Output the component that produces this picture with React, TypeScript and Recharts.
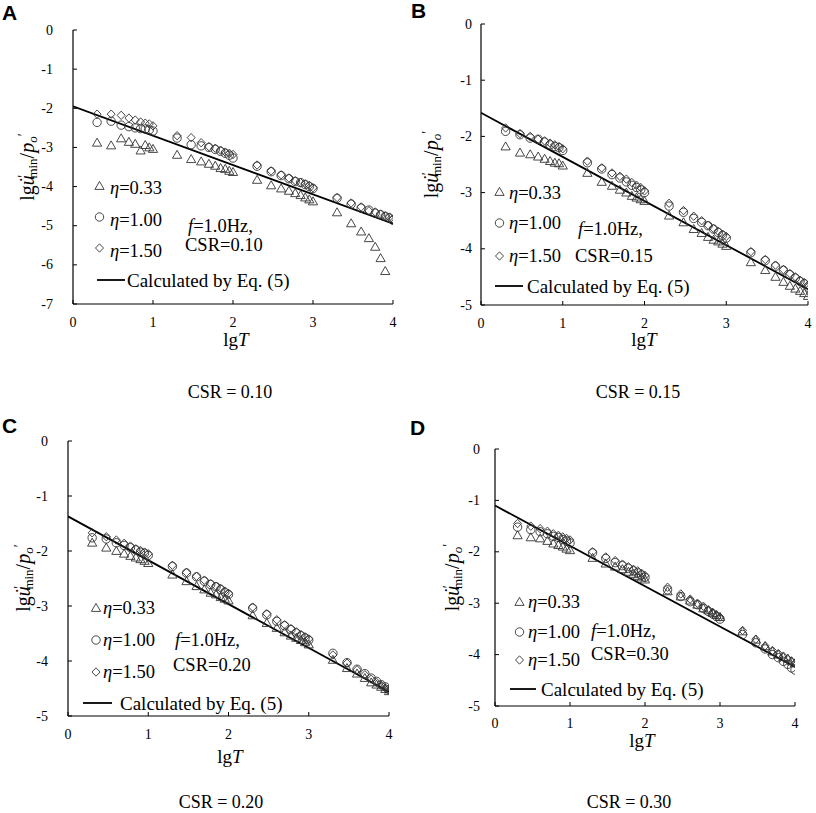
import React from 'react';
import { ScatterChart, Scatter, XAxis, YAxis } from 'recharts';

// lgT values (T = 2..10, 20..100, 200..1000, 2000..10000)
const lgT = [
  0.301, 0.477, 0.602, 0.699, 0.778, 0.845, 0.903, 0.954, 1.0,
  1.301, 1.477, 1.602, 1.699, 1.778, 1.845, 1.903, 1.954, 2.0,
  2.301, 2.477, 2.602, 2.699, 2.778, 2.845, 2.903, 2.954, 3.0,
  3.301, 3.477, 3.602, 3.699, 3.778, 3.845, 3.903, 3.954, 4.0,
];
const lineX = [0, 4];
const xTicks = [0, 1, 2, 3, 4];
const yTicks7 = [-7, -6, -5, -4, -3, -2, -1, 0];
const yTicks5 = [-5, -4, -3, -2, -1, 0];

// Panel A, CSR = 0.10
const triA = [-2.88, -2.95, -2.77, -2.86, -2.91, -3.08, -2.94, -3.0, -3.04,
  -3.19, -3.3, -3.36, -3.42, -3.47, -3.53, -3.55, -3.6, -3.63,
  -3.83, -3.97, -4.05, -4.11, -4.17, -4.22, -4.28, -4.33, -4.38,
  -4.66, -4.94, -5.15, -5.32, -5.54, -5.83, -6.16, null, null];
const cirA = [-2.36, -2.33, -2.43, -2.47, -2.5, -2.52, -2.53, -2.55, -2.58,
  -2.76, -2.93, -2.96, -3.0, -3.05, -3.1, -3.15, -3.2, -3.27,
  -3.48, -3.62, -3.72, -3.8, -3.87, -3.9, -3.95, -4.0, -4.05,
  -4.3, -4.45, -4.55, -4.6, -4.68, -4.72, -4.76, -4.8, -4.86];
const diaA = [-2.15, -2.15, -2.18, -2.25, -2.3, -2.35, -2.38, -2.4, -2.45,
  -2.7, -2.75, -2.88, -2.98, -3.02, -3.07, -3.12, -3.15, -3.18,
  -3.45, -3.6, -3.7, -3.78, -3.85, -3.9, -3.93, -3.97, -4.03,
  -4.28, -4.42, -4.52, -4.62, -4.65, -4.7, -4.75, -4.78, -4.83];
const lineA = [-1.95, -4.95];

// Panel B, CSR = 0.15
const triB = [-2.18, -2.29, -2.32, -2.36, -2.4, -2.44, -2.47, -2.48, -2.52,
  -2.65, -2.81, -2.88, -2.95, -3.0, -3.06, -3.09, -3.12, -3.15,
  -3.41, -3.53, -3.65, -3.72, -3.79, -3.84, -3.87, -3.91, -3.95,
  -4.24, -4.38, -4.5, -4.59, -4.66, -4.71, -4.75, -4.79, -4.84];
const cirB = [-1.91, -1.97, -2.03, -2.05, -2.1, -2.15, -2.18, -2.2, -2.25,
  -2.47, -2.58, -2.68, -2.74, -2.81, -2.87, -2.91, -2.95, -3.0,
  -3.24, -3.35, -3.46, -3.53, -3.59, -3.65, -3.71, -3.76, -3.81,
  -4.07, -4.21, -4.31, -4.38, -4.46, -4.52, -4.58, -4.62, -4.68];
const diaB = [-1.85, -1.95, -2.0, -2.05, -2.08, -2.12, -2.15, -2.18, -2.22,
  -2.44, -2.56, -2.65, -2.71, -2.76, -2.82, -2.87, -2.91, -2.97,
  -3.19, -3.32, -3.42, -3.5, -3.58, -3.64, -3.69, -3.74, -3.78,
  -4.05, -4.19, -4.29, -4.37, -4.44, -4.5, -4.56, -4.6, -4.65];
const lineB = [-1.58, -4.72];

// Panel C, CSR = 0.20
const triC = [-1.85, -1.94, -2.0, -2.05, -2.09, -2.12, -2.15, -2.18, -2.22,
  -2.43, -2.55, -2.64, -2.7, -2.76, -2.79, -2.84, -2.87, -2.9,
  -3.17, -3.31, -3.4, -3.48, -3.54, -3.58, -3.62, -3.66, -3.7,
  -3.98, -4.13, -4.23, -4.31, -4.39, -4.43, -4.47, -4.51, -4.55];
const cirC = [-1.76, -1.78, -1.85, -1.9, -1.94, -1.98, -2.02, -2.04, -2.08,
  -2.28, -2.4, -2.47, -2.55, -2.61, -2.65, -2.7, -2.75, -2.79,
  -3.04, -3.16, -3.28, -3.36, -3.43, -3.49, -3.54, -3.58, -3.62,
  -3.86, -4.03, -4.15, -4.23, -4.31, -4.37, -4.43, -4.47, -4.52];
const diaC = [-1.67, -1.74, -1.8, -1.86, -1.91, -1.96, -1.99, -2.02, -2.05,
  -2.26, -2.39, -2.46, -2.53, -2.59, -2.64, -2.68, -2.73, -2.77,
  -3.02, -3.14, -3.25, -3.34, -3.41, -3.47, -3.52, -3.56, -3.6,
  -3.89, -4.04, -4.16, -4.25, -4.33, -4.39, -4.44, -4.49, -4.53];
const lineC = [-1.37, -4.56];

// Panel D, CSR = 0.30
const triD = [-1.68, -1.72, -1.74, -1.79, -1.84, -1.87, -1.9, -1.94, -1.97,
  -2.12, -2.23, -2.29, -2.34, -2.39, -2.43, -2.47, -2.5, -2.54,
  -2.77, -2.87, -2.95, -3.03, -3.1, -3.14, -3.19, -3.23, -3.27,
  -3.55, -3.71, -3.84, -3.94, -4.0, -4.05, -4.08, -4.13, -4.17];
const cirD = [-1.52, -1.57, -1.61, -1.65, -1.7, -1.72, -1.76, -1.79, -1.83,
  -2.02, -2.13, -2.21, -2.27, -2.32, -2.37, -2.41, -2.45, -2.5,
  -2.74, -2.87, -2.97, -3.03, -3.1, -3.16, -3.21, -3.26, -3.31,
  -3.61, -3.77, -3.89, -4.0, -4.06, -4.13, -4.19, -4.26, -4.3];
const diaD = [-1.45, -1.5, -1.55, -1.6, -1.65, -1.68, -1.71, -1.74, -1.77,
  -2.0, -2.1, -2.17, -2.24, -2.29, -2.34, -2.37, -2.42, -2.46,
  -2.69, -2.82, -2.92, -3.0, -3.06, -3.13, -3.18, -3.23, -3.27,
  -3.53, -3.7, -3.83, -3.92, -3.98, -4.03, -4.08, -4.13, -4.17];
const lineD = [-1.1, -4.24];

const seriesLabels = ['0.33', '1.00', '1.50'];
const lineLabel = 'Calculated by Eq. (5)';
const panelLetters = ['A', 'B', 'C', 'D'];
const csrValues = ['0.10', '0.15', '0.20', '0.30'];

const zip = (xs: number[], ys: (number | null)[]) =>
  xs.map((x, i) => ({ x, y: ys[i] })).filter((d) => d.y !== null);

const SERIF = '"Liberation Serif", "Times New Roman", serif';
const SERIF_STYLE = { fontFamily: SERIF };
const MARK = '#333';

const triPath = (cx: number, cy: number) =>
  `${cx},${cy - 4.6} ${cx - 4.6},${cy + 3.4} ${cx + 4.6},${cy + 3.4}`;
const diaPath = (cx: number, cy: number) =>
  `${cx},${cy - 4.2} ${cx + 4},${cy} ${cx},${cy + 4.2} ${cx - 4},${cy}`;

const Tri = (p: any) => <polygon points={triPath(p.cx, p.cy)} fill="none" stroke={MARK} strokeWidth={0.9} />;
const Cir = (p: any) => <circle cx={p.cx} cy={p.cy} r={4.2} fill="none" stroke={MARK} strokeWidth={0.9} />;
const Dia = (p: any) => <polygon points={diaPath(p.cx, p.cy)} fill="none" stroke={MARK} strokeWidth={0.9} />;
const NoShape = () => <g />;

const YTick = (p: any) => (
  <g>
    <line x1={p.x} x2={p.x + 4} y1={p.y} y2={p.y} stroke="#000" strokeWidth={1} />
    <text x={p.x - p.gap} y={p.y} textAnchor="end" dominantBaseline="central" fontSize={14}
      style={SERIF_STYLE} fill="#000">
      {p.payload.value}
    </text>
  </g>
);
const XTick = (p: any) => (
  <g>
    <line x1={p.x} x2={p.x} y1={p.y} y2={p.y - 4} stroke="#000" strokeWidth={1} />
    <text x={p.x} y={p.y + p.gap} textAnchor="middle" dominantBaseline="central" fontSize={14}
      style={SERIF_STYLE} fill="#000">
      {p.payload.value}
    </text>
  </g>
);

const panels = [
  { tri: triA, cir: cirA, dia: diaA, line: lineA, yTicks: yTicks7, box: { left: 0, top: 0, width: 408, height: 410 },
    margin: { top: 30, right: 15, bottom: 76, left: 33 }, yGap: 20, xGap: 18 },
  { tri: triB, cir: cirB, dia: diaB, line: lineB, yTicks: yTicks5, box: { left: 408, top: 0, width: 408, height: 410 },
    margin: { top: 24, right: 8, bottom: 75, left: 33 }, yGap: 9, xGap: 18 },
  { tri: triC, cir: cirC, dia: diaC, line: lineC, yTicks: yTicks5, box: { left: 0, top: 410, width: 408, height: 403 },
    margin: { top: 31, right: 19, bottom: 67, left: 28 }, yGap: 20, xGap: 18 },
  { tri: triD, cir: cirD, dia: diaD, line: lineD, yTicks: yTicks5, box: { left: 408, top: 410, width: 408, height: 403 },
    margin: { top: 39, right: 21, bottom: 77, left: 47 }, yGap: 15, xGap: 17 },
];

// overlay layout (page coordinates)
const overlay = [
  { letter: [2, 20], yLab: [27, 167], xLab: [236, 339], cap: [230, 392],
    mk: [99.5, 110, [186, 217, 248], [188, 220, 251]], ln: [97, 125, 280, 127], f: [188, 226], c: [185, 245] },
  { letter: [411, 18], yLab: [431, 164.5], xLab: [644, 339], cap: [638, 392],
    mk: [499.5, 509, [192, 223, 256], [193, 223, 256]], ln: [495, 523, 286, 527], f: [578, 229], c: [575, 256] },
  { letter: [2, 433], yLab: [23, 578], xLab: [230, 756], cap: [221, 802],
    mk: [96, 103, [608, 640, 672], [608, 640, 672]], ln: [83, 112, 703, 120], f: [175, 640], c: [173, 665] },
  { letter: [410, 435], yLab: [452, 577.5], xLab: [642, 740], cap: [629, 802],
    mk: [519.5, 528, [602, 632, 660], [602, 632, 660]], ln: [510, 536, 689, 541], f: [591, 631], c: [591, 654] },
];

const YLabel = ({ x, y }: { x: number; y: number }) => (
  <text transform={`translate(${x},${y}) rotate(-90)`} textAnchor="middle" dominantBaseline="central"
    fontSize={20} style={SERIF_STYLE} fill="#000">
    <tspan>lg</tspan>
    <tspan fontStyle="italic">u</tspan>
    <tspan dx={-7.5} fontSize={18}>˙</tspan>
    <tspan dx={-1} dy={-4} fontSize={14}>′</tspan>
    <tspan dx={-4} dy={9} fontSize={13}>min</tspan>
    <tspan dy={-5}>/</tspan>
    <tspan fontStyle="italic">p</tspan>
    <tspan dy={5} fontSize={13} fontStyle="italic">o</tspan>
    <tspan dx={0} dy={-9} fontSize={14}>′</tspan>
  </text>
);

const Overlay = () => (
  <svg width={816} height={813} style={{ position: 'absolute', left: 0, top: 0, pointerEvents: 'none' }}>
    {overlay.map((o, i) => {
      const [mx, tx, mys, tys] = o.mk as [number, number, number[], number[]];
      const shapes = [Tri, Cir, Dia];
      return (
        <g key={i}>
          <text x={o.letter[0]} y={o.letter[1]} fontSize={21} fontWeight="bold"
            style={{ fontFamily: '"Liberation Sans", Arial, sans-serif' }} fill="#000">{panelLetters[i]}</text>
          <YLabel x={o.yLab[0]} y={o.yLab[1]} />
          <text x={o.xLab[0]} y={o.xLab[1]} textAnchor="middle" dominantBaseline="central" fontSize={19} style={SERIF_STYLE}>
            <tspan>lg</tspan><tspan fontStyle="italic">T</tspan>
          </text>
          <text x={o.cap[0]} y={o.cap[1]} textAnchor="middle" dominantBaseline="central" fontSize={18} style={SERIF_STYLE}>
            {`CSR = ${csrValues[i]}`}
          </text>
          {seriesLabels.map((lab, k) => {
            const S = shapes[k];
            return (
              <g key={k}>
                <S cx={mx} cy={mys[k]} />
                <text x={tx} y={tys[k]} dominantBaseline="central" fontSize={18.5} style={SERIF_STYLE}>
                  <tspan fontStyle="italic">η</tspan>{`=${lab}`}
                </text>
              </g>
            );
          })}
          <line x1={o.ln[0]} x2={o.ln[1]} y1={o.ln[2]} y2={o.ln[2]} stroke="#000" strokeWidth={1.8} />
          <text x={o.ln[3]} y={o.ln[2]} dominantBaseline="central" fontSize={19} style={SERIF_STYLE}>{lineLabel}</text>
          <text x={o.f[0]} y={o.f[1]} dominantBaseline="central" fontSize={18.5} style={SERIF_STYLE}>
            <tspan fontStyle="italic">f</tspan>=1.0Hz,
          </text>
          <text x={o.c[0]} y={o.c[1]} dominantBaseline="central" fontSize={18.5} style={SERIF_STYLE}>
            {`CSR=${csrValues[i]}`}
          </text>
        </g>
      );
    })}
  </svg>
);

const Panel = ({ p }: { p: (typeof panels)[number] }) => {
  const yMin = p.yTicks[0];
  return (
    <div style={{ position: 'absolute', left: p.box.left, top: p.box.top }}>
      <ScatterChart width={p.box.width} height={p.box.height} margin={p.margin}>
        <XAxis type="number" dataKey="x" domain={[0, 4]} ticks={xTicks} allowDataOverflow height={30}
          axisLine={{ stroke: '#000', strokeWidth: 1.2 }} tickLine={false} tickSize={0} tickMargin={0}
          tick={(t: any) => <XTick {...t} gap={p.xGap} />} interval={0} />
        <YAxis type="number" dataKey="y" domain={[yMin, 0]} ticks={p.yTicks} allowDataOverflow width={40}
          axisLine={{ stroke: '#000', strokeWidth: 1.2 }} tickLine={false} tickSize={0} tickMargin={0}
          tick={(t: any) => <YTick {...t} gap={p.yGap} />} interval={0} />
        <Scatter data={zip(lineX, p.line)} line={{ stroke: '#000', strokeWidth: 1.8 }} shape={NoShape}
          isAnimationActive={false} />
        <Scatter data={zip(lgT, p.tri)} shape={Tri} isAnimationActive={false} />
        <Scatter data={zip(lgT, p.cir)} shape={Cir} isAnimationActive={false} />
        <Scatter data={zip(lgT, p.dia)} shape={Dia} isAnimationActive={false} />
      </ScatterChart>
    </div>
  );
};

export default function App() {
  return (
    <div style={{ position: 'absolute', left: 0, top: 0, width: 816, height: 813, background: '#fff' }}>
      {panels.map((p, i) => (
        <Panel key={i} p={p} />
      ))}
      <Overlay />
    </div>
  );
}
